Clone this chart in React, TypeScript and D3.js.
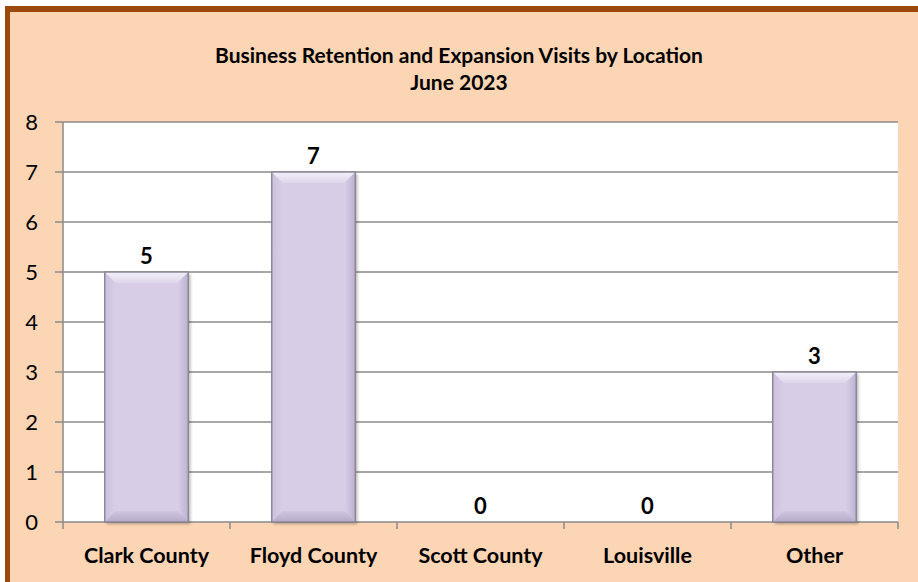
import React from "react";
import * as d3 from "d3";

const categories = ["Clark County", "Floyd County", "Scott County", "Louisville", "Other"];
const visits = [5, 7, 0, 0, 3];
const yTicks = [0, 1, 2, 3, 4, 5, 6, 7, 8];
const titleLines = ["Business Retention and Expansion Visits by Location", "June 2023"];

const W = 918;
const H = 582;
const plot = { left: 63, right: 898, top: 122, bottom: 522 };
const FONT = "Lato, 'Open Sans', 'DejaVu Sans', sans-serif";

export default function App() {
  const x = d3
    .scaleBand<string>()
    .domain(categories)
    .range([plot.left, plot.right])
    .paddingInner(0.5)
    .paddingOuter(0.25);
  const xCat = d3.scaleBand<string>().domain(categories).range([plot.left, plot.right]);
  const y = d3.scaleLinear().domain([0, 8]).range([plot.bottom, plot.top]);
  const bw = x.bandwidth();
  const bev = 11;

  return (
    <svg width={W} height={H} style={{ position: "absolute", left: 0, top: 0 }} xmlns="http://www.w3.org/2000/svg">
      <defs>
        <linearGradient id="barFill" x1="0" x2="1" y1="0" y2="0">
          <stop offset="0" stopColor="#CCC1DD" />
          <stop offset="0.12" stopColor="#D7CDE7" />
          <stop offset="0.88" stopColor="#D7CDE7" />
          <stop offset="1" stopColor="#BDB1CF" />
        </linearGradient>
        <linearGradient id="topBev" x1="0" x2="0" y1="0" y2="1">
          <stop offset="0" stopColor="#F4F1F8" />
          <stop offset="1" stopColor="#DDD5EA" />
        </linearGradient>
        <linearGradient id="botBev" x1="0" x2="0" y1="0" y2="1">
          <stop offset="0" stopColor="#CFC5DF" />
          <stop offset="1" stopColor="#B6AACB" />
        </linearGradient>
        <filter id="shadow" x="-20%" y="-20%" width="150%" height="150%">
          <feDropShadow dx="2" dy="2" stdDeviation="1.5" floodColor="#000" floodOpacity="0.3" />
        </filter>
      </defs>
      <rect x={0} y={0} width={W} height={H} fill="#ffffff" />
      <rect x={5} y={6} width={W} height={H} fill="#FCD5B5" />
      <rect x={5} y={6} width={W} height={6} fill="#9C4A0C" />
      <rect x={5} y={6} width={5} height={H} fill="#9C4A0C" />

      <g fontFamily={FONT} fontWeight="bold" fontSize={21} textAnchor="middle" fill="#000">
        {titleLines.map((t, i) => (
          <text key={t} x={459} y={63 + i * 27}>
            {t}
          </text>
        ))}
      </g>

      <rect x={plot.left} y={plot.top} width={plot.right - plot.left} height={plot.bottom - plot.top} fill="#ffffff" />

      {yTicks.map((t) => (
        <g key={t}>
          <line x1={plot.left - 8} x2={plot.right} y1={y(t)} y2={y(t)} stroke="#8A8A8A" strokeWidth={1.5} />
          <text x={38} y={y(t) + 7.5} textAnchor="end" fontFamily={FONT} fontSize={22} fill="#000">
            {t}
          </text>
        </g>
      ))}
      <line x1={plot.left} x2={plot.left} y1={plot.top} y2={plot.bottom + 7} stroke="#8A8A8A" strokeWidth={1.5} />
      {categories.map((c) => (
        <line key={c} x1={(xCat(c) as number) + xCat.bandwidth()} x2={(xCat(c) as number) + xCat.bandwidth()} y1={plot.bottom} y2={plot.bottom + 7} stroke="#8A8A8A" strokeWidth={1.5} />
      ))}

      {categories.map((c, i) => {
        const v = visits[i];
        const x0 = x(c) as number;
        const y0 = y(v);
        const h = plot.bottom - y0;
        return (
          <g key={c}>
            {h > 0 && (
              <g>
                <rect x={x0} y={y0} width={bw} height={h} fill="url(#barFill)" filter="url(#shadow)" />
                <polygon
                  points={`${x0},${y0} ${x0 + bw},${y0} ${x0 + bw - bev},${y0 + bev} ${x0 + bev},${y0 + bev}`}
                  fill="url(#topBev)"
                />
                <polygon
                  points={`${x0},${y0 + h} ${x0 + bw},${y0 + h} ${x0 + bw - bev},${y0 + h - bev} ${x0 + bev},${y0 + h - bev}`}
                  fill="url(#botBev)"
                />
                <rect x={x0} y={y0} width={bw} height={h} fill="none" stroke="#8C8898" strokeWidth={1.5} />
              </g>
            )}
            <text x={x0 + bw / 2} y={y0 - 8.5} textAnchor="middle" fontFamily={FONT} fontWeight="bold" fontSize={22} fill="#000">
              {v}
            </text>
            <text x={x0 + bw / 2} y={563} textAnchor="middle" fontFamily={FONT} fontWeight="bold" fontSize={21.5} fill="#000">
              {c}
            </text>
          </g>
        );
      })}
    </svg>
  );
}
